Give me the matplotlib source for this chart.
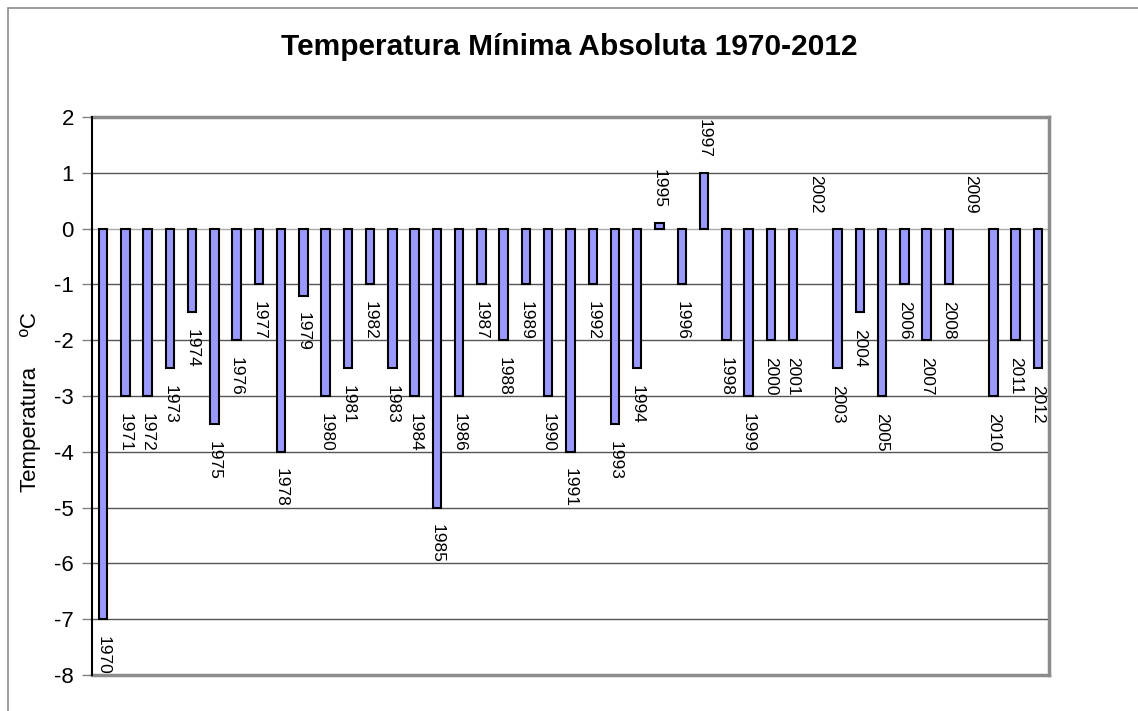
import numpy as np
import matplotlib
matplotlib.use("Agg")
from matplotlib import pyplot as plt
from matplotlib.patches import Rectangle

plt.rcParams["font.family"] = ["Liberation Sans", "DejaVu Sans"]

# Minimum absolute temperature per year
years = list(range(1970, 2013))
temps = [
    -7, -3, -3, -2.5, -1.5, -3.5, -2, -1, -4, -1.2,
    -3, -2.5, -1, -2.5, -3, -5, -3, -1, -2, -1,
    -3, -4, -1, -3.5, -2.5, 0.1, -1, 1, -2, -3,
    -2, -2, 0, -2.5, -1.5, -3, -1, -2, -1, 0,
    -3, -2, -2.5,
]
y_ticks = list(range(-8, 3))

fig = plt.figure(figsize=(11.38, 7.11), dpi=100)
ax = fig.add_axes([0.0808, 0.0506, 0.8410, 0.7848])

# outer chart frame
fig.patches.append(Rectangle((8 / 1138, -0.1), 1.2, 0.1 + 1 - 8 / 711,
                             transform=fig.transFigure, fill=False,
                             edgecolor="#8c8c8c", linewidth=1.2))

x = np.arange(len(years))
edge_widths = [1.5 if t != 0 else 0 for t in temps]
ax.bar(x, temps, width=0.38, color="#9999ff", edgecolor="black",
       linewidth=edge_widths, zorder=3)

for xi, yr, t in zip(x, years, temps):
    if t >= 0:
        ax.annotate(str(yr), (xi, t), xytext=(0, 11), textcoords="offset points",
                    rotation=270, ha="center", va="bottom", fontsize=12.5)
    else:
        ax.annotate(str(yr), (xi, t), xytext=(0, -12), textcoords="offset points",
                    rotation=270, ha="center", va="top", fontsize=12.5)

ax.set_xlim(-0.5, len(years) - 0.5)
ax.set_ylim(-8, 2)
ax.set_yticks(y_ticks)
ax.set_yticklabels([str(v) for v in y_ticks], fontsize=16)
ax.set_xticks([])
ax.tick_params(axis="y", direction="out", length=7, width=1, color="#808080", pad=6)

for v in y_ticks:
    if v in (-8, 2):
        continue
    ax.axhline(v, color="#aaaaaa" if v == 0 else "#555555", linewidth=1, zorder=1)

for side in ("top", "right", "bottom"):
    ax.spines[side].set_color("#8c8c8c")
    ax.spines[side].set_linewidth(2.5)
ax.spines["left"].set_color("black")
ax.spines["left"].set_linewidth(1.5)
ax.spines["left"].set_zorder(4)

ax.set_ylabel("Temperatura     ºC", fontsize=16)
ax.yaxis.set_label_coords(-0.053, 0.49)
fig.text(0.5, 1 - 47 / 711, "Temperatura Mínima Absoluta 1970-2012",
         ha="center", va="center", fontsize=21.5, fontweight="bold")

fig.savefig("out.png", dpi=100)
